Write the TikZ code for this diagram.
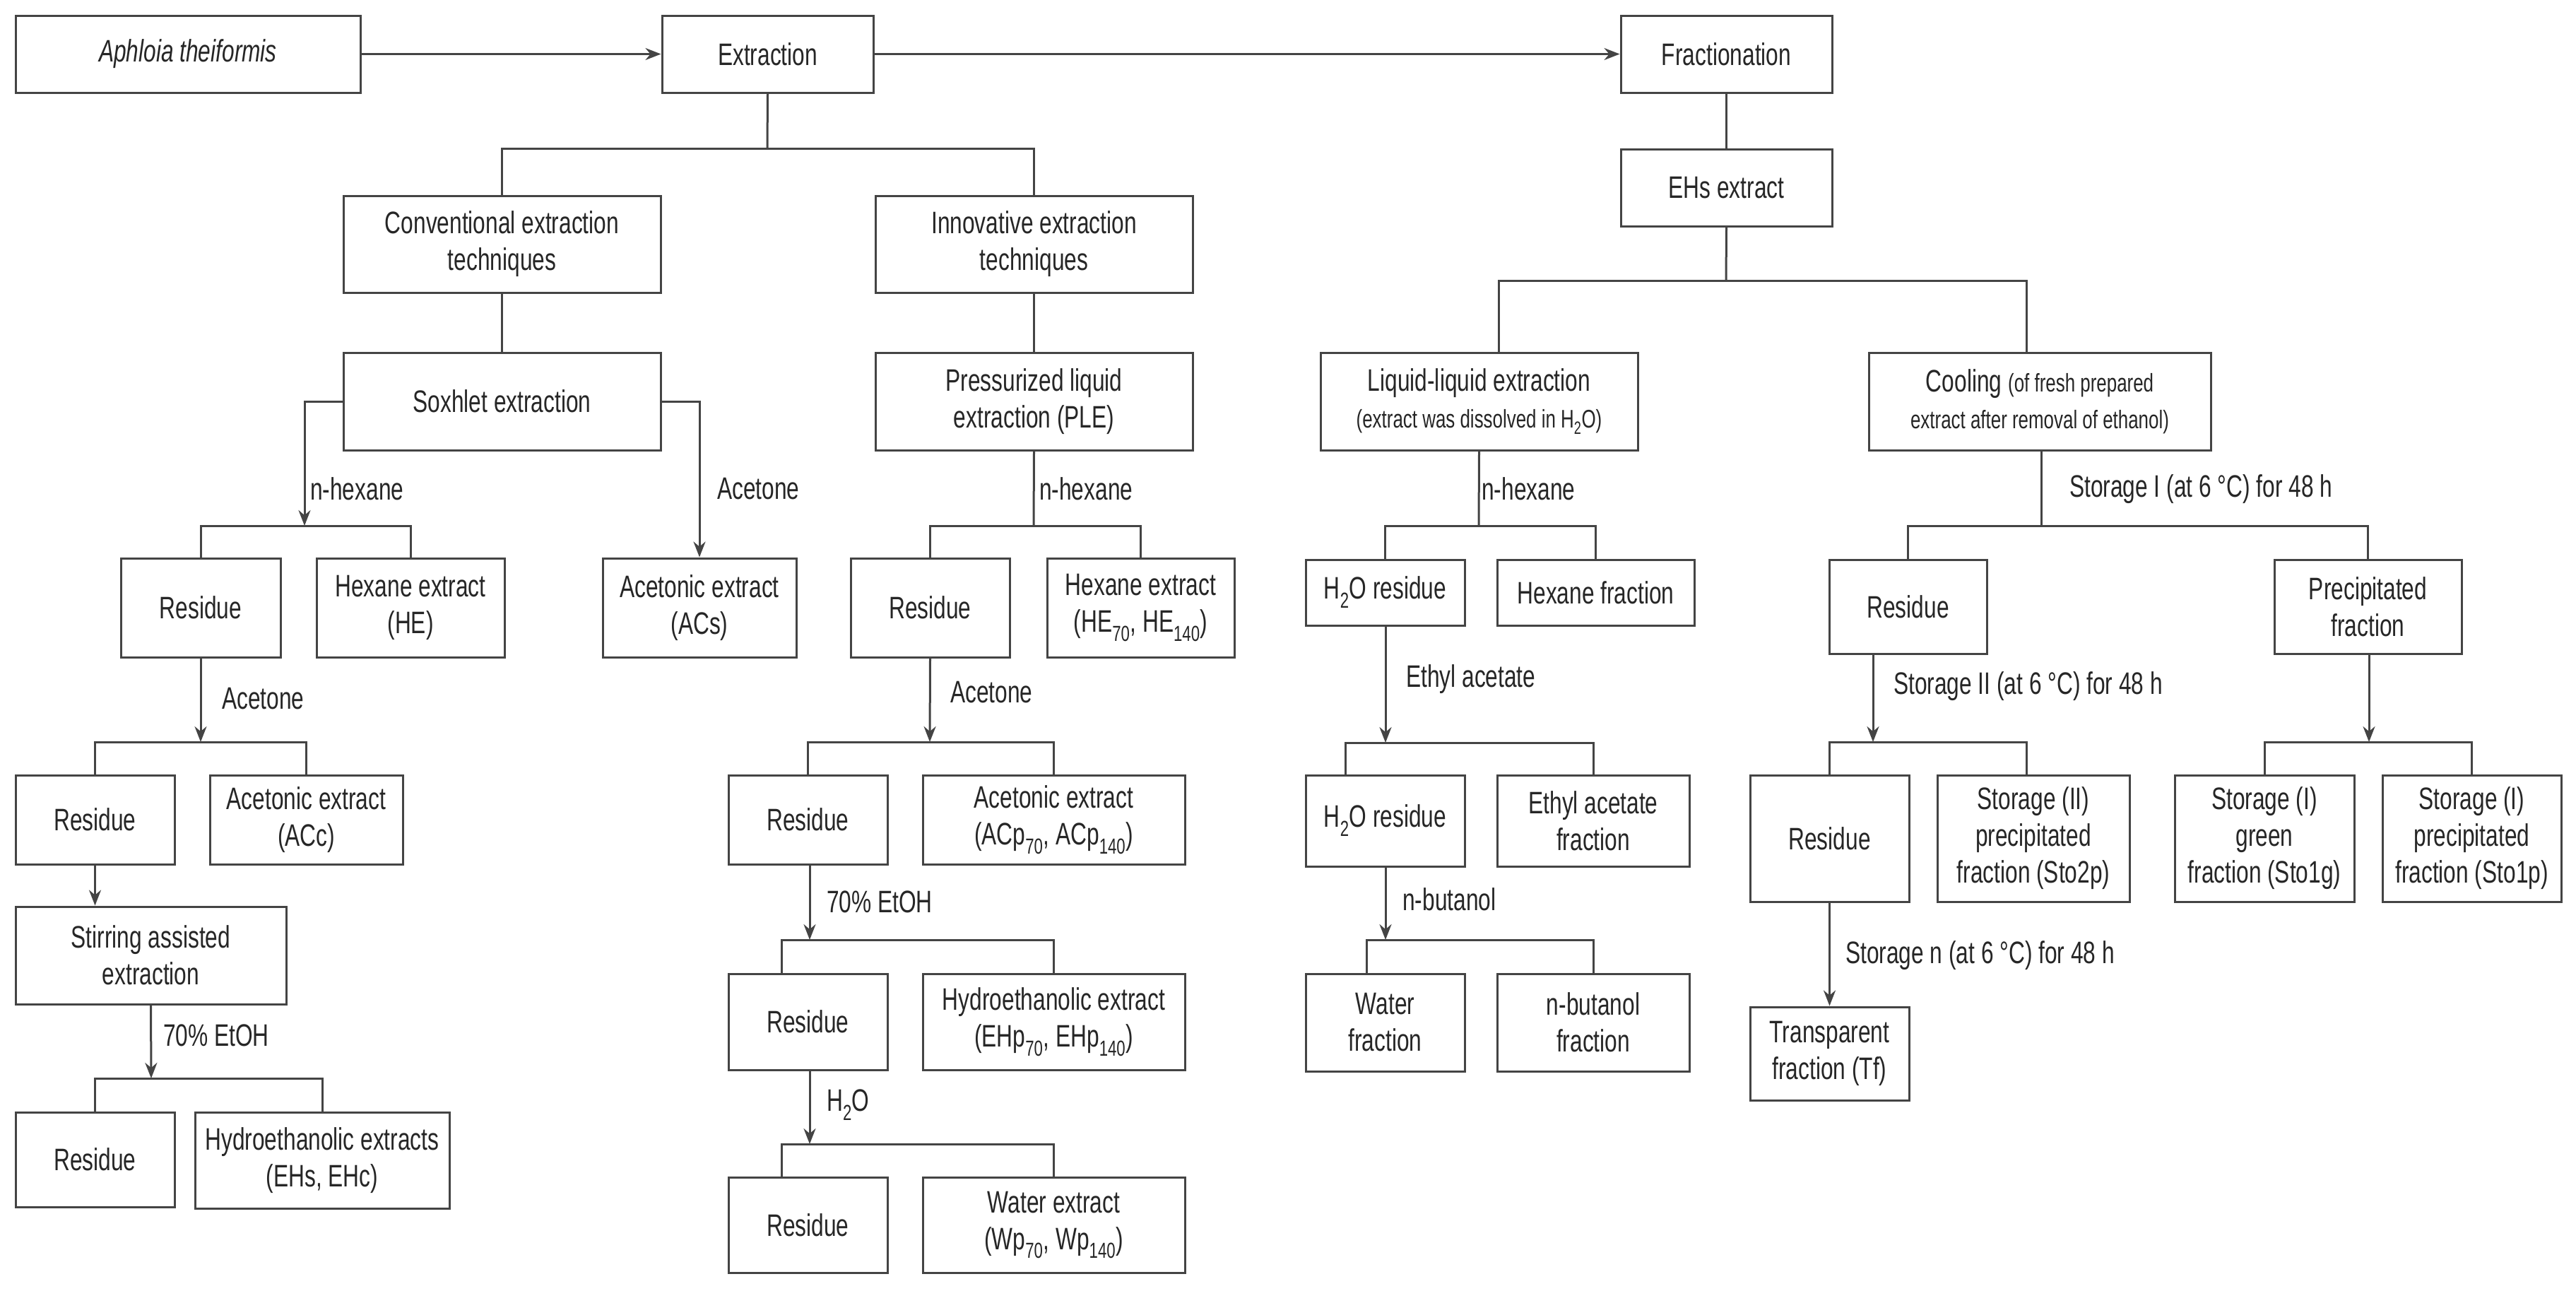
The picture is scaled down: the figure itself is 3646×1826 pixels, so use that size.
\documentclass[tikz,border=0pt]{standalone}
\usepackage{fontspec}
\setmainfont{Liberation Sans}[FakeStretch=0.72]
\usetikzlibrary{arrows.meta}
\definecolor{lc}{HTML}{444444}
\definecolor{tc}{HTML}{262626}
\newcommand{\fs}{\fontsize{44}{52}\selectfont}
\newcommand{\fsm}{\fontsize{36}{44}\selectfont}
\newcommand{\B}[6]{\node[box,minimum width={(#4-#2)*1pt},minimum height={(#5-#3)*1pt}] (#1) at ({(#2+#4)/2},{(#3+#5)/2}) {#6};}
\newcommand{\Lb}[4]{\node[lab] (#1) at (#2,#3) {#4};}
\begin{document}
\begin{tikzpicture}[x=1pt,y=-1pt,
  box/.style={draw=lc,line width=3pt,inner sep=0pt,align=center,text=tc,font=\fs},
  ln/.style={draw=lc,line width=3pt},
  arr/.style={ln,-{Stealth[length=22pt,width=17pt]}},
  lab/.style={anchor=west,text=tc,font=\fs,inner sep=0pt}]
\useasboundingbox[fill=white] (0,0) rectangle (3646,1826);
% top
\B{aph}{22}{22}{510}{131}{\itshape Aphloia theiformis}
\B{ext}{937}{22}{1236}{131}{Extraction}
\B{frac}{2294}{22}{2593}{131}{Fractionation}
% extraction branch
\B{conv}{486}{277}{935}{414}{Conventional extraction\\techniques}
\B{innov}{1239}{277}{1688}{414}{Innovative extraction\\techniques}
\B{sox}{486}{499}{935}{637}{Soxhlet extraction}
\B{ple}{1239}{499}{1688}{637}{Pressurized liquid\\extraction (PLE)}
\B{res1}{171}{790}{397}{930}{Residue}
\B{he1}{448}{790}{714}{930}{Hexane extract\\(HE)}
\B{acs}{853}{790}{1127}{930}{Acetonic extract\\(ACs)}
\B{res2}{22}{1097}{247}{1223}{Residue}
\B{acc}{297}{1097}{570}{1223}{Acetonic extract\\(ACc)}
\B{stir}{22}{1283}{405}{1421}{Stirring assisted\\extraction}
\B{res3}{22}{1574}{247}{1708}{Residue}
\B{hyd}{276}{1574}{636}{1710}{Hydroethanolic extracts\\(EHs, EHc)}
\B{res4}{1204}{790}{1429}{930}{Residue}
\B{he2}{1482}{790}{1747}{930}{Hexane extract\\(HE\textsubscript{70}, HE\textsubscript{140})}
\B{res5}{1031}{1097}{1256}{1223}{Residue}
\B{acp}{1306}{1097}{1677}{1223}{Acetonic extract\\(ACp\textsubscript{70}, ACp\textsubscript{140})}
\B{res6}{1031}{1378}{1256}{1514}{Residue}
\B{ehp}{1306}{1378}{1677}{1514}{Hydroethanolic extract\\(EHp\textsubscript{70}, EHp\textsubscript{140})}
\B{res9}{1031}{1666}{1256}{1801}{Residue}
\B{wp}{1306}{1666}{1677}{1801}{Water extract\\(Wp\textsubscript{70}, Wp\textsubscript{140})}
% fractionation branch
\B{ehs}{2294}{211}{2593}{320}{EHs extract}
\B{lle}{1869}{499}{2318}{637}{Liquid-liquid extraction\\{\fsm (extract was dissolved in H\textsubscript{2}O)}}
\B{cool}{2645}{499}{3129}{637}{Cooling {\fsm (of fresh prepared}\\{\fsm extract after removal of ethanol)}}
\B{h2o1}{1848}{792}{2073}{885}{H\textsubscript{2}O residue}
\B{hexf}{2119}{792}{2398}{885}{Hexane fraction}
\B{h2o2}{1848}{1097}{2073}{1226}{H\textsubscript{2}O residue}
\B{eaf}{2119}{1097}{2391}{1226}{Ethyl acetate\\fraction}
\B{wat}{1848}{1378}{2073}{1516}{Water\\fraction}
\B{nbf}{2119}{1378}{2391}{1516}{n-butanol\\fraction}
\B{res7}{2589}{792}{2812}{925}{Residue}
\B{prec}{3219}{792}{3484}{925}{Precipitated\\fraction}
\B{res8}{2477}{1097}{2702}{1276}{Residue}
\B{sto2p}{2742}{1097}{3014}{1276}{Storage (II)\\precipitated\\fraction (Sto2p)}
\B{tf}{2477}{1425}{2702}{1557}{Transparent\\fraction (Tf)}
\B{sto1g}{3078}{1097}{3332}{1276}{Storage (I)\\green\\fraction (Sto1g)}
\B{sto1p}{3372}{1097}{3625}{1276}{Storage (I)\\precipitated\\fraction (Sto1p)}
% labels
\Lb{l1}{439}{692}{n-hexane}
\Lb{l2}{1015}{692}{Acetone}
\Lb{l3}{314}{989}{Acetone}
\Lb{l4}{231}{1465}{70\% EtOH}
\Lb{l5}{1471}{692}{n-hexane}
\Lb{l6}{1345}{980}{Acetone}
\Lb{l7}{1170}{1276}{70\% EtOH}
\Lb{l8}{1170}{1564}{H\textsubscript{2}O}
\Lb{l9}{2097}{692}{n-hexane}
\Lb{l10}{1990}{961}{Ethyl acetate}
\Lb{l11}{1985}{1273}{n-butanol}
\Lb{l12}{2929}{692}{Storage I (at 6 °C) for 48 h}
\Lb{l13}{2680}{971}{Storage II (at 6 °C) for 48 h}
\Lb{l14}{2612}{1352}{Storage n (at 6 °C) for 48 h}
% coordinates
\coordinate (t1) at (1086,210);
\coordinate (s1) at (431,744);
\coordinate (s2) at (284,1050);
\coordinate (s3) at (214,1526);
\coordinate (p1) at (1463,744);
\coordinate (p2) at (1316,1050);
\coordinate (p3) at (1146,1330);
\coordinate (p3L) at (1106,1330);
\coordinate (p4) at (1146,1619);
\coordinate (p4L) at (1106,1619);
\coordinate (f1) at (2443,397);
\coordinate (f1L) at (2121,397);
\coordinate (f1R) at (2868,397);
\coordinate (l1c) at (2093,744);
\coordinate (e1) at (1961,1051);
\coordinate (e1L) at (1904,1051);
\coordinate (e2) at (1961,1330);
\coordinate (e2L) at (1934,1330);
\coordinate (c1) at (2889,744);
\coordinate (c2) at (2651,1050);
\coordinate (c2R) at (2868,1050);
\coordinate (c3) at (3353,1050);
% connectors
\draw[arr] (aph.east) -- (ext.west);
\draw[arr] (ext.east) -- (frac.west);
\draw[ln] (ext.south) -- (t1);
\draw[ln] (conv.north) |- (t1) -| (innov.north);
\draw[ln] (conv.south) -- (sox.north);
\draw[ln] (innov.south) -- (ple.north);
\draw[arr] (sox.west) -| (s1);
\draw[ln] (res1.north) |- (s1) -| (he1.north);
\draw[arr] (sox.east) -| (acs.north);
\draw[arr] (res1.south) -- (s2);
\draw[ln] (res2.north) |- (s2) -| (acc.north);
\draw[arr] (res2.south) -- (res2.south |- stir.north);
\draw[arr] (stir.south) -- (s3);
\draw[ln] (res3.north) |- (s3) -| (hyd.north);
\draw[ln] (ple.south) -- (p1);
\draw[ln] (res4.north) |- (p1) -| (he2.north);
\draw[arr] (res4.south) -- (p2);
\draw[ln] (res5.north) |- (p2) -| (acp.north);
\draw[arr] (p3 |- res5.south) -- (p3);
\draw[ln] (p3L |- res6.north) -- (p3L) -| (ehp.north);
\draw[arr] (p4 |- res6.south) -- (p4);
\draw[ln] (p4L |- res9.north) -- (p4L) -| (wp.north);
\draw[ln] (frac.south) -- (ehs.north);
\draw[ln] (ehs.south) -- (f1);
\draw[ln] (f1L |- lle.north) -- (f1L) -- (f1R) -- (f1R |- cool.north);
\draw[ln] (lle.south) -- (l1c);
\draw[ln] (h2o1.north) |- (l1c) -| (hexf.north);
\draw[arr] (e1 |- h2o1.south) -- (e1);
\draw[ln] (e1L |- h2o2.north) -- (e1L) -| (eaf.north);
\draw[arr] (e2 |- h2o2.south) -- (e2);
\draw[ln] (e2L |- wat.north) -- (e2L) -| (nbf.north);
\draw[ln] (c1 |- cool.south) -- (c1);
\draw[ln] (res7.north) |- (c1) -| (prec.north);
\draw[arr] (c2 |- res7.south) -- (c2);
\draw[ln] (res8.north) |- (c2) -- (c2R) -- (c2R |- sto2p.north);
\draw[arr] (res8.south) -- (tf.north);
\draw[arr] (c3 |- prec.south) -- (c3);
\draw[ln] (sto1g.north) |- (c3) -| (sto1p.north);
\end{tikzpicture}
\end{document}
